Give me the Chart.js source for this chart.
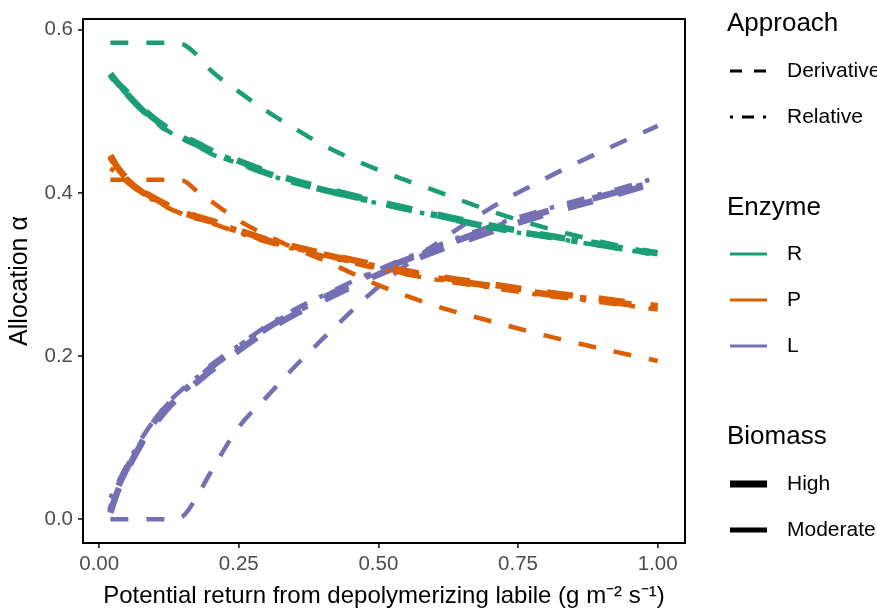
<!DOCTYPE html>
<html>
<head>
<meta charset="utf-8">
<script src="https://cdn.jsdelivr.net/npm/chart.js@4.4.1/dist/chart.umd.min.js"></script>
<style>
html,body{margin:0;padding:0;background:#ffffff;}
#wrap{width:877px;height:609px;position:relative;}
</style>
</head>
<body>
<div id="wrap"><canvas id="c" width="877" height="609"></canvas></div>
<script>
// ---- data ----
const xValues = [0.02, 0.03, 0.05, 0.075, 0.1, 0.125, 0.15, 0.175, 0.2, 0.25, 0.3, 0.35, 0.4, 0.5, 0.6, 0.7, 0.8, 0.9, 1.0];

const rDerivativeModerate = [0.584, 0.584, 0.584, 0.584, 0.584, 0.584, 0.582, 0.569, 0.550, 0.524, 0.500, 0.479, 0.459, 0.428, 0.403, 0.378, 0.357, 0.340, 0.325];
const rDerivativeHigh     = [0.546, 0.537, 0.523, 0.505, 0.490, 0.478, 0.469, 0.461, 0.452, 0.439, 0.426, 0.415, 0.406, 0.389, 0.374, 0.360, 0.348, 0.337, 0.326];
const rRelativeHigh       = [0.545, 0.536, 0.521, 0.503, 0.488, 0.476, 0.467, 0.459, 0.450, 0.437, 0.424, 0.413, 0.404, 0.388, 0.373, 0.358, 0.347, 0.336, 0.325];
const rRelativeModerate   = [0.544, 0.535, 0.520, 0.502, 0.487, 0.475, 0.466, 0.458, 0.448, 0.436, 0.423, 0.412, 0.403, 0.387, 0.372, 0.357, 0.346, 0.335, 0.324];

const pDerivativeModerate = [0.416, 0.416, 0.416, 0.416, 0.416, 0.416, 0.415, 0.402, 0.390, 0.366, 0.348, 0.332, 0.318, 0.287, 0.262, 0.243, 0.225, 0.209, 0.194];
const pDerivativeHigh     = [0.446, 0.434, 0.417, 0.403, 0.393, 0.384, 0.377, 0.371, 0.366, 0.354, 0.343, 0.334, 0.326, 0.311, 0.298, 0.288, 0.278, 0.270, 0.261];
const pRelativeHigh       = [0.444, 0.433, 0.416, 0.402, 0.392, 0.383, 0.376, 0.370, 0.365, 0.353, 0.342, 0.333, 0.325, 0.309, 0.296, 0.286, 0.276, 0.268, 0.259];
const pRelativeModerate   = [0.430, 0.425, 0.413, 0.400, 0.390, 0.381, 0.374, 0.368, 0.363, 0.351, 0.340, 0.331, 0.323, 0.307, 0.294, 0.284, 0.274, 0.266, 0.257];

const lDerivativeModerate = [0.000, 0.000, 0.000, 0.000, 0.000, 0.000, 0.004, 0.028, 0.058, 0.113, 0.150, 0.187, 0.221, 0.285, 0.336, 0.381, 0.418, 0.451, 0.482];
const lDerivativeHigh     = [0.008, 0.029, 0.060, 0.092, 0.117, 0.138, 0.154, 0.168, 0.182, 0.207, 0.231, 0.251, 0.268, 0.300, 0.328, 0.352, 0.374, 0.393, 0.413];
const lRelativeHigh       = [0.011, 0.033, 0.063, 0.093, 0.121, 0.141, 0.157, 0.171, 0.186, 0.211, 0.234, 0.254, 0.271, 0.304, 0.331, 0.356, 0.377, 0.396, 0.414];
const lRelativeModerate   = [0.026, 0.040, 0.067, 0.098, 0.123, 0.144, 0.160, 0.174, 0.189, 0.213, 0.237, 0.257, 0.274, 0.306, 0.334, 0.359, 0.380, 0.399, 0.419];

const xTickValues = [0, 0.25, 0.5, 0.75, 1.0];
const yTickValues = [0, 0.2, 0.4, 0.6];

const approachLabels = ['Derivative', 'Relative'];
const enzymeLabels = ['R', 'P', 'L'];
const biomassLabels = ['High', 'Moderate'];

// ---- styling ----
const FAM = "'Liberation Sans', Arial, Helvetica, sans-serif";
const enzymeColors = { R: '#1B9E77', P: '#D95F02', L: '#7570B3' };
const widths = { High: 6.5, Moderate: 4.5 };
function dashFor(approach, w) {
  return approach === 'Derivative' ? [4 * w, 4 * w] : [1 * w, 3 * w, 4 * w, 3 * w];
}

const seriesTable = [
  ['R', 'Derivative', 'Moderate', rDerivativeModerate],
  ['R', 'Derivative', 'High', rDerivativeHigh],
  ['R', 'Relative', 'High', rRelativeHigh],
  ['R', 'Relative', 'Moderate', rRelativeModerate],
  ['P', 'Derivative', 'Moderate', pDerivativeModerate],
  ['P', 'Derivative', 'High', pDerivativeHigh],
  ['P', 'Relative', 'High', pRelativeHigh],
  ['P', 'Relative', 'Moderate', pRelativeModerate],
  ['L', 'Derivative', 'Moderate', lDerivativeModerate],
  ['L', 'Derivative', 'High', lDerivativeHigh],
  ['L', 'Relative', 'High', lRelativeHigh],
  ['L', 'Relative', 'Moderate', lRelativeModerate]
];

const datasets = seriesTable.map(([enz, appr, bio, vals]) => {
  const w = widths[bio];
  return {
    label: enz + ' ' + appr + ' ' + bio,
    data: xValues.map((x, i) => ({ x: x, y: vals[i] })),
    borderColor: enzymeColors[enz],
    backgroundColor: enzymeColors[enz],
    borderWidth: w,
    borderDash: dashFor(appr, w),
    borderCapStyle: 'butt',
    borderJoinStyle: 'round',
    pointRadius: 0,
    pointHoverRadius: 0,
    fill: false,
    cubicInterpolationMode: 'monotone'
  };
});

// ---- plugins ----
const panelBorder = {
  id: 'panelBorder',
  afterDatasetsDraw(chart) {
    const a = chart.chartArea;
    const ctx = chart.ctx;
    ctx.save();
    ctx.strokeStyle = '#000000';
    ctx.lineWidth = 2;
    ctx.strokeRect(a.left, a.top, a.right - a.left, a.bottom - a.top);
    ctx.restore();
  }
};

const ggLegend = {
  id: 'ggLegend',
  afterDraw(chart) {
    const ctx = chart.ctx;
    const kx0 = 730, kx1 = 767, tx = 787, titleX = 727;
    ctx.save();
    ctx.fillStyle = '#000000';
    ctx.textAlign = 'left';
    ctx.textBaseline = 'alphabetic';
    ctx.font = '26px ' + FAM;
    ctx.fillText('Approach', titleX, 31);
    ctx.fillText('Enzyme', titleX, 215);
    ctx.fillText('Biomass', titleX, 444);

    function key(y, color, w, dash) {
      ctx.save();
      ctx.strokeStyle = color;
      ctx.lineWidth = w;
      ctx.lineCap = 'butt';
      ctx.setLineDash(dash || []);
      ctx.beginPath();
      ctx.moveTo(kx0, y);
      ctx.lineTo(kx1, y);
      ctx.stroke();
      ctx.restore();
    }
    function label(text, y) {
      ctx.font = '21px ' + FAM;
      ctx.textBaseline = 'middle';
      ctx.fillStyle = '#000000';
      ctx.fillText(text, tx, y);
    }
    const approachY = [71, 117];
    approachLabels.forEach((t, i) => {
      key(approachY[i], '#000000', 3, dashFor(t, 3));
      label(t, approachY[i]);
    });
    const enzymeY = [254, 300, 346];
    enzymeLabels.forEach((t, i) => {
      key(enzymeY[i], enzymeColors[t], 3, []);
      label(t, enzymeY[i]);
    });
    const biomassY = [484, 530];
    biomassLabels.forEach((t, i) => {
      key(biomassY[i], '#000000', widths[t] + 0.5, []);
      label(t, biomassY[i]);
    });
    ctx.restore();
  }
};

Chart.defaults.font.family = FAM;

new Chart(document.getElementById('c'), {
  type: 'line',
  data: { datasets: datasets },
  options: {
    responsive: false,
    devicePixelRatio: 1,
    animation: false,
    events: [],
    layout: { padding: { left: 0, top: 19, right: 192, bottom: 0 } },
    plugins: { legend: { display: false }, tooltip: { enabled: false }, title: { display: false } },
    scales: {
      x: {
        type: 'linear',
        min: -0.029,
        max: 1.049,
        afterFit(scale) { scale.height = 66; },
        afterBuildTicks(scale) { scale.ticks = xTickValues.map(v => ({ value: v })); },
        ticks: {
          callback: v => Number(v).toFixed(2),
          color: '#4D4D4D',
          font: { size: 20.5, family: FAM },
          padding: 4,
          maxRotation: 0,
          autoSkip: false
        },
        grid: { display: true, drawOnChartArea: false, drawTicks: true, tickLength: 5, tickColor: '#333333', tickWidth: 1.8, lineWidth: 1.8 },
        border: { display: false },
        title: {
          display: true,
          text: 'Potential return from depolymerizing labile (g m\u207B\u00B2 s\u207B\u00B9)',
          color: '#000000',
          font: { size: 24, family: FAM, lineHeight: 1 },
          padding: { top: 0, bottom: 1 }
        }
      },
      y: {
        type: 'linear',
        min: -0.029,
        max: 0.613,
        afterFit(scale) { scale.width = 83; },
        afterBuildTicks(scale) { scale.ticks = yTickValues.map(v => ({ value: v })); },
        ticks: {
          callback: v => Number(v).toFixed(1),
          color: '#4D4D4D',
          font: { size: 20.5, family: FAM },
          padding: 5
        },
        grid: { display: true, drawOnChartArea: false, drawTicks: true, tickLength: 5, tickColor: '#333333', tickWidth: 1.8, lineWidth: 1.8 },
        border: { display: false },
        title: {
          display: true,
          text: 'Allocation \u03B1',
          color: '#000000',
          font: { size: 25, family: FAM, lineHeight: 1 },
          padding: { top: 8, bottom: 0 }
        }
      }
    }
  },
  plugins: [panelBorder, ggLegend]
});
</script>
</body>
</html>
